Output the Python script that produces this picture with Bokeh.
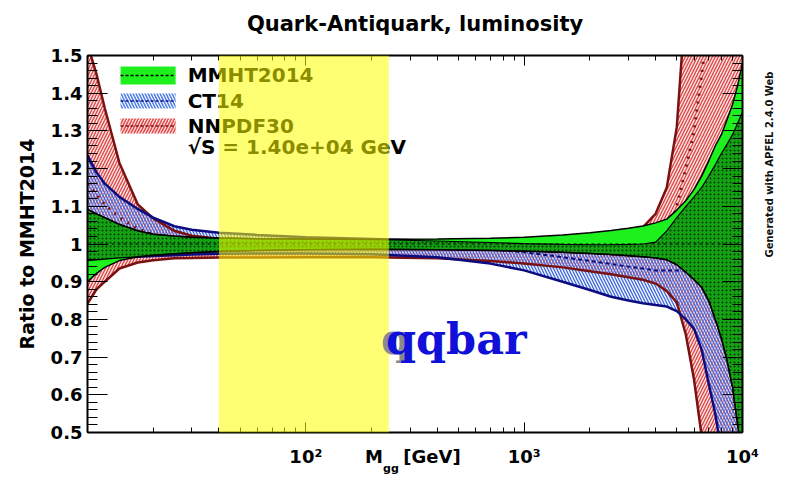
import numpy as np
from bokeh.plotting import figure
from bokeh.models import (Range1d, LogAxis, LinearAxis, FixedTicker, SingleIntervalTicker,
                          BoxAnnotation, Label)
from bokeh.embed import file_html
from bokeh.resources import INLINE

# ---- data: parton luminosity ratios to MMHT2014, sqrt(s) = 14 TeV ----
mass = [10, 11, 12, 14, 17, 20, 25, 30, 40, 60, 100, 200, 400, 700, 1000, 1500, 2000,
        2500, 3000, 3500, 4000, 4500, 5000, 5500, 6000, 6500, 7000, 7500, 8000, 8500,
        9000, 9500, 10000]

mmht_hi = [1.092, 1.080, 1.070, 1.052, 1.035, 1.026, 1.021, 1.018, 1.016, 1.014, 1.013,
           1.012, 1.013, 1.015, 1.018, 1.024, 1.030, 1.036, 1.042, 1.048, 1.056, 1.066,
           1.090, 1.115, 1.145, 1.180, 1.220, 1.260, 1.290, 1.330, 1.370, 1.420, 1.480]
mmht_lo = [0.900, 0.922, 0.938, 0.956, 0.966, 0.970, 0.974, 0.977, 0.980, 0.983, 0.985,
           0.986, 0.985, 0.983, 0.981, 0.978, 0.975, 0.972, 0.969, 0.966, 0.963, 0.958,
           0.945, 0.925, 0.905, 0.885, 0.850, 0.800, 0.750, 0.690, 0.620, 0.520, 0.430]

ct14_hi = [1.235, 1.190, 1.160, 1.125, 1.093, 1.070, 1.047, 1.038, 1.030, 1.024, 1.018,
           1.013, 1.008, 1.004, 1.001, 0.999, 0.998, 0.998, 0.999, 1.000, 1.005, 1.035,
           1.070, 1.100, 1.125, 1.150, 1.180, 1.210, 1.240, 1.265, 1.290, 1.320, 1.350]
ct14_mid = [1.090, 1.075, 1.062, 1.045, 1.030, 1.020, 1.012, 1.008, 1.004, 1.001, 0.999,
            0.996, 0.992, 0.985, 0.978, 0.965, 0.955, 0.947, 0.940, 0.935, 0.930, 0.930,
            0.930, 0.930, 0.925, 0.920, 0.910, 0.900, 0.880, 0.860, 0.840, 0.820, 0.800]
ct14_lo = [0.956, 0.958, 0.960, 0.963, 0.966, 0.968, 0.970, 0.972, 0.974, 0.975, 0.975,
           0.973, 0.965, 0.948, 0.930, 0.900, 0.878, 0.860, 0.850, 0.843, 0.838, 0.834,
           0.822, 0.800, 0.775, 0.720, 0.630, 0.550, 0.450, 0.380, 0.320, 0.260, 0.200]

nnpdf_hi = [1.530, 1.450, 1.360, 1.215, 1.105, 1.068, 1.035, 1.022, 1.014, 1.010, 1.008,
            1.006, 1.005, 1.005, 1.006, 1.010, 1.015, 1.022, 1.032, 1.045, 1.080, 1.150,
            1.310, 1.650, 1.900, 2.000, 2.000, 2.000, 2.000, 2.000, 2.000, 2.000, 2.000]
nnpdf_mid = [1.160, 1.130, 1.105, 1.070, 1.040, 1.025, 1.012, 1.006, 1.000, 0.997, 0.995,
             0.993, 0.990, 0.987, 0.985, 0.980, 0.976, 0.972, 0.970, 0.972, 0.985, 1.010,
             1.100, 1.200, 1.300, 1.450, 1.600, 1.700, 1.700, 1.700, 1.700, 1.700, 1.700]
nnpdf_lo = [0.842, 0.880, 0.900, 0.935, 0.951, 0.957, 0.962, 0.963, 0.964, 0.964, 0.965,
            0.965, 0.962, 0.955, 0.948, 0.938, 0.928, 0.920, 0.912, 0.905, 0.895, 0.875,
            0.845, 0.760, 0.640, 0.490, 0.400, 0.350, 0.300, 0.300, 0.300, 0.300, 0.300]

mmht_central = [1.0] * len(mass)

x_ticks = [10, 100, 1000, 10000]
x_tick_labels = {100: "10²", 1000: "10³", 10000: "10⁴"}
x_minor = [m * d for d in (10, 100, 1000) for m in range(2, 10)]

title = "Quark-Antiquark, luminosity"
y_label = "Ratio to MMHT2014"
x_label = ("M", "gg", "[GeV]")
legend_names = ["MMHT2014", "CT14", "NNPDF30"]
energy_text = "√S = 1.40e+04 GeV"
credit = "Generated with APFEL 2.4.0 Web"
highlight = (40, 240)          # shaded mass window [GeV]

FONT = "DejaVu Sans"


# pixel -> data helpers for decorations (frame: x 87..742, y 55..432)
def lx(px):
    return round(10 ** (1 + (px - 87) / 218), 4)


def ly(py):
    return round(1 + (243.5 - py) / 377, 5)


p = figure(width=785, height=478, x_axis_type="log",
           x_range=Range1d(10, 10000), y_range=Range1d(0.5, 1.5),
           output_backend="svg", toolbar_location=None,
           min_border_left=87, min_border_right=43, min_border_top=55, min_border_bottom=46)
p.grid.visible = False
p.outline_line_color = None
p.background_fill_color = "white"
p.title.visible = False

# ---- NNPDF30 and CT14 hatched bands ----
p.varea(x=mass, y1=nnpdf_lo, y2=nnpdf_hi, fill_color="#fde2e2", fill_alpha=1.0,
        hatch_pattern="right_diagonal_line", hatch_color="#dd4444",
        hatch_scale=6, hatch_weight=1.3)
p.varea(x=mass, y1=ct14_lo, y2=ct14_hi, fill_color="#dfe6ff", fill_alpha=0.35,
        hatch_pattern="left_diagonal_line", hatch_color="#3a66e0",
        hatch_scale=6, hatch_weight=1.3)

for ys in (nnpdf_lo, nnpdf_hi):
    p.line(mass, ys, line_color="#7a1212", line_width=2.5)
for ys in (ct14_lo, ct14_hi):
    p.line(mass, ys, line_color="#0c0c80", line_width=2.5)
p.line(mass, nnpdf_mid, line_color="#7a1212", line_width=3, line_dash="2 6")
p.line(mass, ct14_mid, line_color="#0c0c80", line_width=2, line_dash="4 3")

# ---- MMHT2014 band; the part shared with CT14 is drawn darker ----
p.varea(x=mass, y1=mmht_lo, y2=mmht_hi, fill_color="#1ef01e")
both_lo = np.maximum(mmht_lo, ct14_lo)
both_hi = np.maximum(np.minimum(mmht_hi, ct14_hi), both_lo)
p.varea(x=mass, y1=both_lo, y2=both_hi, fill_color="#13a313",
        hatch_pattern="dot", hatch_color="#053805", hatch_scale=4, hatch_weight=2)
p.line(mass, list(both_lo), line_color="black", line_width=1.2)
p.line(mass, list(both_hi), line_color="black", line_width=1.2)
for ys in (mmht_lo, mmht_hi):
    p.line(mass, ys, line_color="black", line_width=1.5)
p.line(mass, mmht_central, line_color="black", line_width=1.2, line_dash="3 3")

# ---- legend ----
rows = [(66, 84), (93, 108), (118, 133)]
styles = [
    dict(fill_color="#1ef01e"),
    dict(fill_color="white", hatch_pattern="left_diagonal_line", hatch_color="#4a7ae8",
         hatch_scale=6, hatch_weight=1.5),
    dict(fill_color="#fde2e2", hatch_pattern="right_diagonal_line", hatch_color="#e04848",
         hatch_scale=6, hatch_weight=1.5),
]
dash_colors = ["black", "#0c0c80", "#7a1212"]
for (top, bot), st, dc, name in zip(rows, styles, dash_colors, legend_names):
    p.quad(left=[lx(120)], right=[lx(175)], top=[ly(top)], bottom=[ly(bot)],
           line_color=None, **st)
    p.line([lx(120), lx(175)], [ly((top + bot) / 2)] * 2, line_color=dc,
           line_width=1.5, line_dash="3 2")
    p.add_layout(Label(x=lx(187), y=ly((top + bot) / 2), text=name,
                       text_font=FONT, text_font_style="bold", text_font_size="20px",
                       text_baseline="middle", text_color="black"))
p.add_layout(Label(x=lx(187), y=ly(146), text=energy_text,
                   text_font=FONT, text_font_style="bold", text_font_size="20px",
                   text_baseline="middle", text_color="black"))

# ---- axes ----
# bottom: tick marks only; labels live on the unlined axes stacked below it
bottom = p.xaxis[0]
bottom.ticker = FixedTicker(ticks=x_ticks, minor_ticks=x_minor)
bottom.major_tick_in, bottom.major_tick_out = 10, 0
bottom.minor_tick_in, bottom.minor_tick_out = 5, 0
bottom.major_label_text_font_size = "1px"
bottom.major_label_text_color = None
bottom.major_label_standoff = 0
bottom.axis_line_width = 2
bottom.axis_line_color = "black"

m_pos, gev_pos, sub_pos = lx(373), lx(431), lx(390)
label_axis = LogAxis(ticker=FixedTicker(ticks=[100, 1000, 10000, m_pos, gev_pos], minor_ticks=[]),
                     major_label_overrides={**x_tick_labels, m_pos: x_label[0], gev_pos: x_label[2]},
                     axis_line_color=None, major_tick_line_color=None, minor_tick_line_color=None,
                     major_tick_in=0, major_tick_out=0, minor_tick_in=0, minor_tick_out=0,
                     major_label_standoff=13, major_label_text_font=FONT,
                     major_label_text_color="black",
                     major_label_text_font_style="bold", major_label_text_font_size="18px")
p.add_layout(label_axis, "below")
sub_axis = LogAxis(ticker=FixedTicker(ticks=[sub_pos], minor_ticks=[]),
                   major_label_overrides={sub_pos: x_label[1]},
                   axis_line_color=None, major_tick_line_color=None, minor_tick_line_color=None,
                   major_tick_in=0, major_tick_out=0, minor_tick_in=0, minor_tick_out=0,
                   major_label_standoff=-8, major_label_text_font=FONT,
                   major_label_text_color="black",
                   major_label_text_font_style="bold", major_label_text_font_size="11px")
p.add_layout(sub_axis, "below")

left = p.yaxis[0]
left.ticker = SingleIntervalTicker(interval=0.1, num_minor_ticks=5)
left.major_tick_in, left.major_tick_out = 20, 0
left.minor_tick_in, left.minor_tick_out = 10, 0
left.major_label_standoff = 5
left.major_label_text_font = FONT
left.major_label_text_font_style = "bold"
left.major_label_text_font_size = "18px"
left.major_label_text_color = "black"
left.axis_label = y_label
left.axis_label_standoff = 10
left.axis_label_text_font = FONT
left.axis_label_text_font_style = "bold"
left.axis_label_text_font_size = "19px"
left.axis_label_text_color = "black"
left.axis_line_width = 2
left.axis_line_color = "black"

# top: mirrored ticks, carrying the plot title as its label
top_axis = LogAxis(ticker=FixedTicker(ticks=x_ticks, minor_ticks=x_minor),
                   major_tick_in=10, major_tick_out=0, minor_tick_in=5, minor_tick_out=0,
                   major_label_text_font_size="1px", major_label_text_color=None,
                   major_label_standoff=0, axis_line_width=2,
                   axis_label=title, axis_label_standoff=20,
                   axis_label_text_font=FONT, axis_label_text_font_style="bold",
                   axis_label_text_font_size="21px", axis_label_text_color="black")
p.add_layout(top_axis, "above")
right_axis = LinearAxis(ticker=SingleIntervalTicker(interval=0.1, num_minor_ticks=5),
                        major_tick_in=20, major_tick_out=0, minor_tick_in=10, minor_tick_out=0,
                        major_label_text_font_size="1px", major_label_text_color=None,
                        major_label_standoff=0, axis_line_width=2)
p.add_layout(right_axis, "right")

# generator note, written upwards along the right edge
credit_pos = ly(257)
credit_axis = LinearAxis(ticker=FixedTicker(ticks=[credit_pos], minor_ticks=[]),
                         major_label_overrides={credit_pos: credit},
                         major_label_orientation=np.pi / 2,
                         axis_line_color=None, major_tick_line_color=None,
                         minor_tick_line_color=None, major_tick_in=0, major_tick_out=0,
                         minor_tick_in=0, minor_tick_out=0, major_label_standoff=27,
                         major_label_text_font=FONT, major_label_text_font_style="bold",
                         major_label_text_color="#111111",
                         major_label_text_font_size="10px")
p.add_layout(credit_axis, "right")

# highlighted mass window
p.add_layout(BoxAnnotation(left=highlight[0], right=highlight[1], fill_color="#ffff00",
                           fill_alpha=0.55, line_color=None))

# process tag
p.add_layout(Label(x=lx(380), y=ly(363), text="q", text_font="DejaVu Serif",
                   text_font_style="bold", text_font_size="43px", text_color="#8a8a8a"))
p.add_layout(Label(x=lx(385), y=ly(363), text="qqbar", text_font="DejaVu Serif",
                   text_font_style="bold", text_font_size="43px", text_color="#1010d8"))

open("out.html", "w").write(file_html(p, INLINE))
